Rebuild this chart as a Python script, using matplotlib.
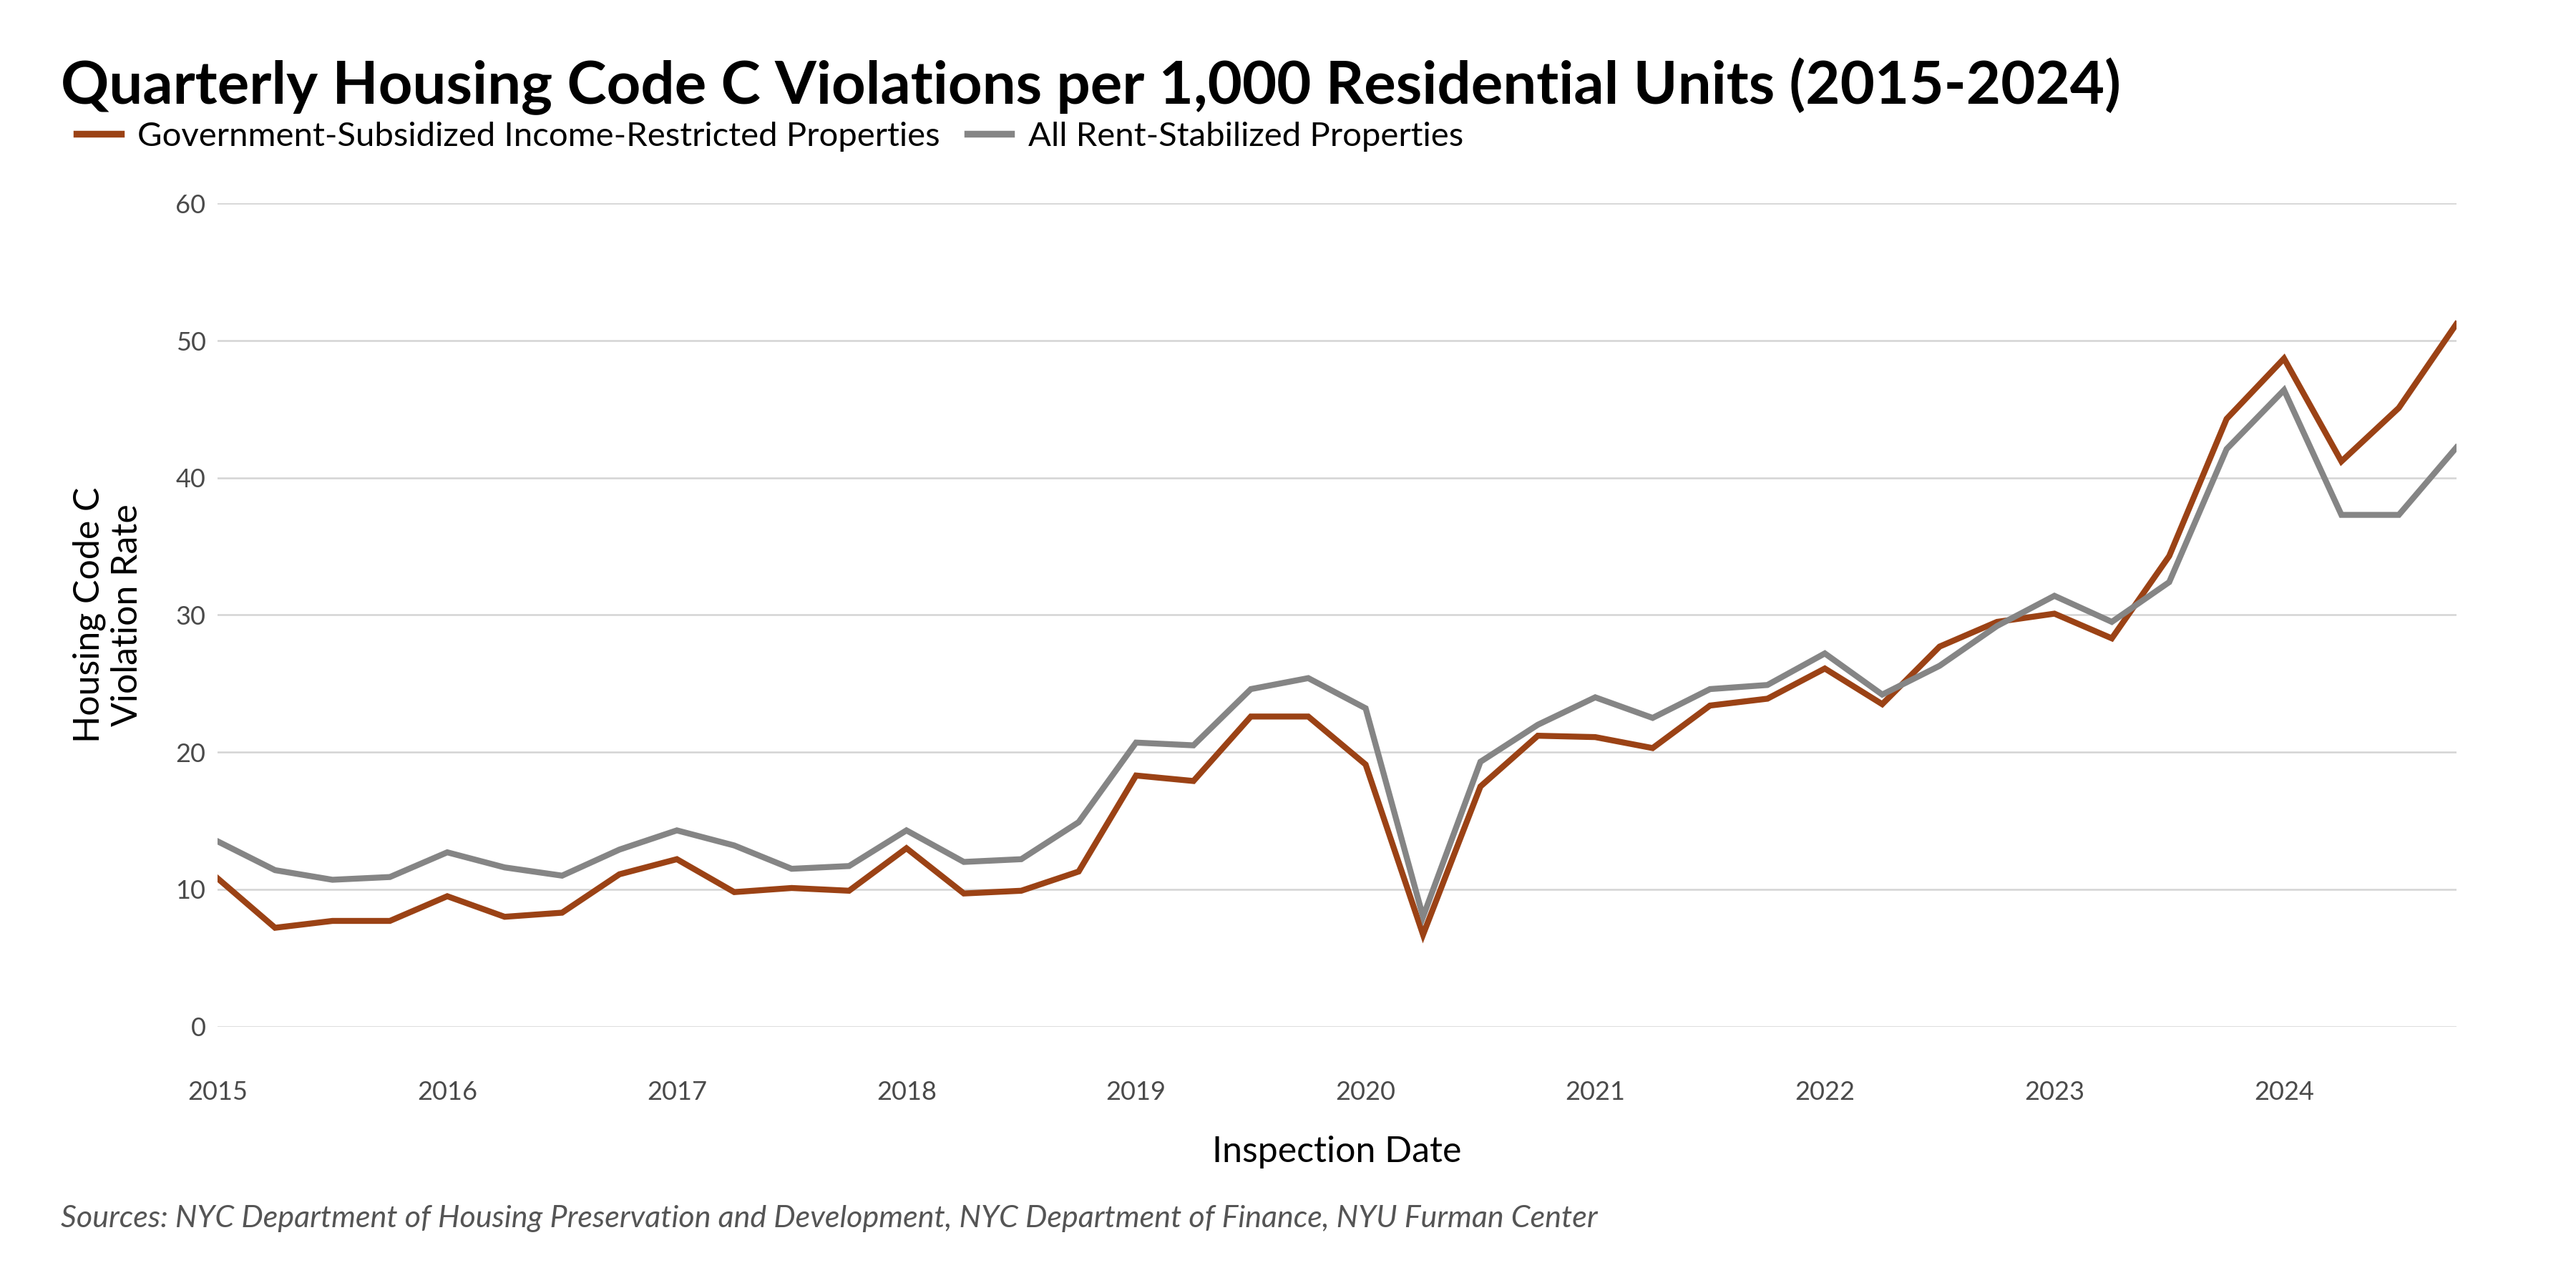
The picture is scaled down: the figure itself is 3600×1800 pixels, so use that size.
import matplotlib.pyplot as plt
from matplotlib.lines import Line2D

plt.rcParams['font.family'] = ['Lato', 'DejaVu Sans']

# quarterly rates, 2015 Q1 .. 2024 Q4
quarters = [2015 + i / 4 for i in range(40)]
subsidized = [10.8, 7.2, 7.7, 7.7, 9.5, 8.0, 8.3, 11.1, 12.2, 9.8,
              10.1, 9.9, 13.0, 9.7, 9.9, 11.3, 18.3, 17.9, 22.6, 22.6,
              19.1, 6.7, 17.5, 21.2, 21.1, 20.3, 23.4, 23.9, 26.1, 23.5,
              27.7, 29.5, 30.1, 28.3, 34.3, 44.3, 48.7, 41.2, 45.1, 51.2]
stabilized = [13.5, 11.4, 10.7, 10.9, 12.7, 11.6, 11.0, 12.9, 14.3, 13.2,
              11.5, 11.7, 14.3, 12.0, 12.2, 14.9, 20.7, 20.5, 24.6, 25.4,
              23.2, 8.0, 19.3, 22.0, 24.0, 22.5, 24.6, 24.9, 27.2, 24.2,
              26.3, 29.2, 31.4, 29.5, 32.4, 42.1, 46.4, 37.3, 37.3, 42.2]
years = list(range(2015, 2025))
yticks = [0, 10, 20, 30, 40, 50, 60]

red = '#9b4215'
grey = '#858585'

fig = plt.figure(figsize=(18, 9), dpi=200)
ax = fig.add_axes([0.0845, 0.203, 0.869, 0.639])

ax.plot(quarters, subsidized, color=red, lw=3.0, solid_joinstyle='miter')
ax.plot(quarters, stabilized, color=grey, lw=3.0, solid_joinstyle='miter')

ax.set_xlim(2015, 2024.75)
ax.set_ylim(0, 60)
ax.set_yticks(yticks)
ax.set_xticks(years)
ax.set_xticklabels([str(y) for y in years])
ax.grid(axis='y', color='#d4d4d4', lw=0.9)
ax.set_axisbelow(True)
for s in ax.spines.values():
    s.set_visible(False)
ax.tick_params(length=0, labelsize=13, labelcolor='#4a4a4a')
ax.tick_params(axis='x', pad=27)
ax.tick_params(axis='y', pad=6)

ax.set_xlabel('Inspection Date', fontsize=18, labelpad=16)
ax.set_ylabel('Housing Code C\nViolation Rate', fontsize=18, labelpad=16)

fig.text(0.0235, 0.933, 'Quarterly Housing Code C Violations per 1,000 Residential Units (2015-2024)',
         fontsize=30, fontweight='bold', va='center')

handles = [Line2D([], [], color=red, lw=3.4), Line2D([], [], color=grey, lw=3.4)]
fig.legend(handles, ['Government-Subsidized Income-Restricted Properties', 'All Rent-Stabilized Properties'],
           loc='center left', bbox_to_anchor=(0.018, 0.894), ncol=2, frameon=False,
           fontsize=17, handlelength=1.3, handletextpad=0.5, columnspacing=0.8)

fig.text(0.0235, 0.0445 + 0.0095, 'Sources: NYC Department of Housing Preservation and Development, '
         'NYC Department of Finance, NYU Furman Center',
         fontsize=15.5, style='italic', color='#555555', va='center')

fig.savefig('out.png', dpi=200)
